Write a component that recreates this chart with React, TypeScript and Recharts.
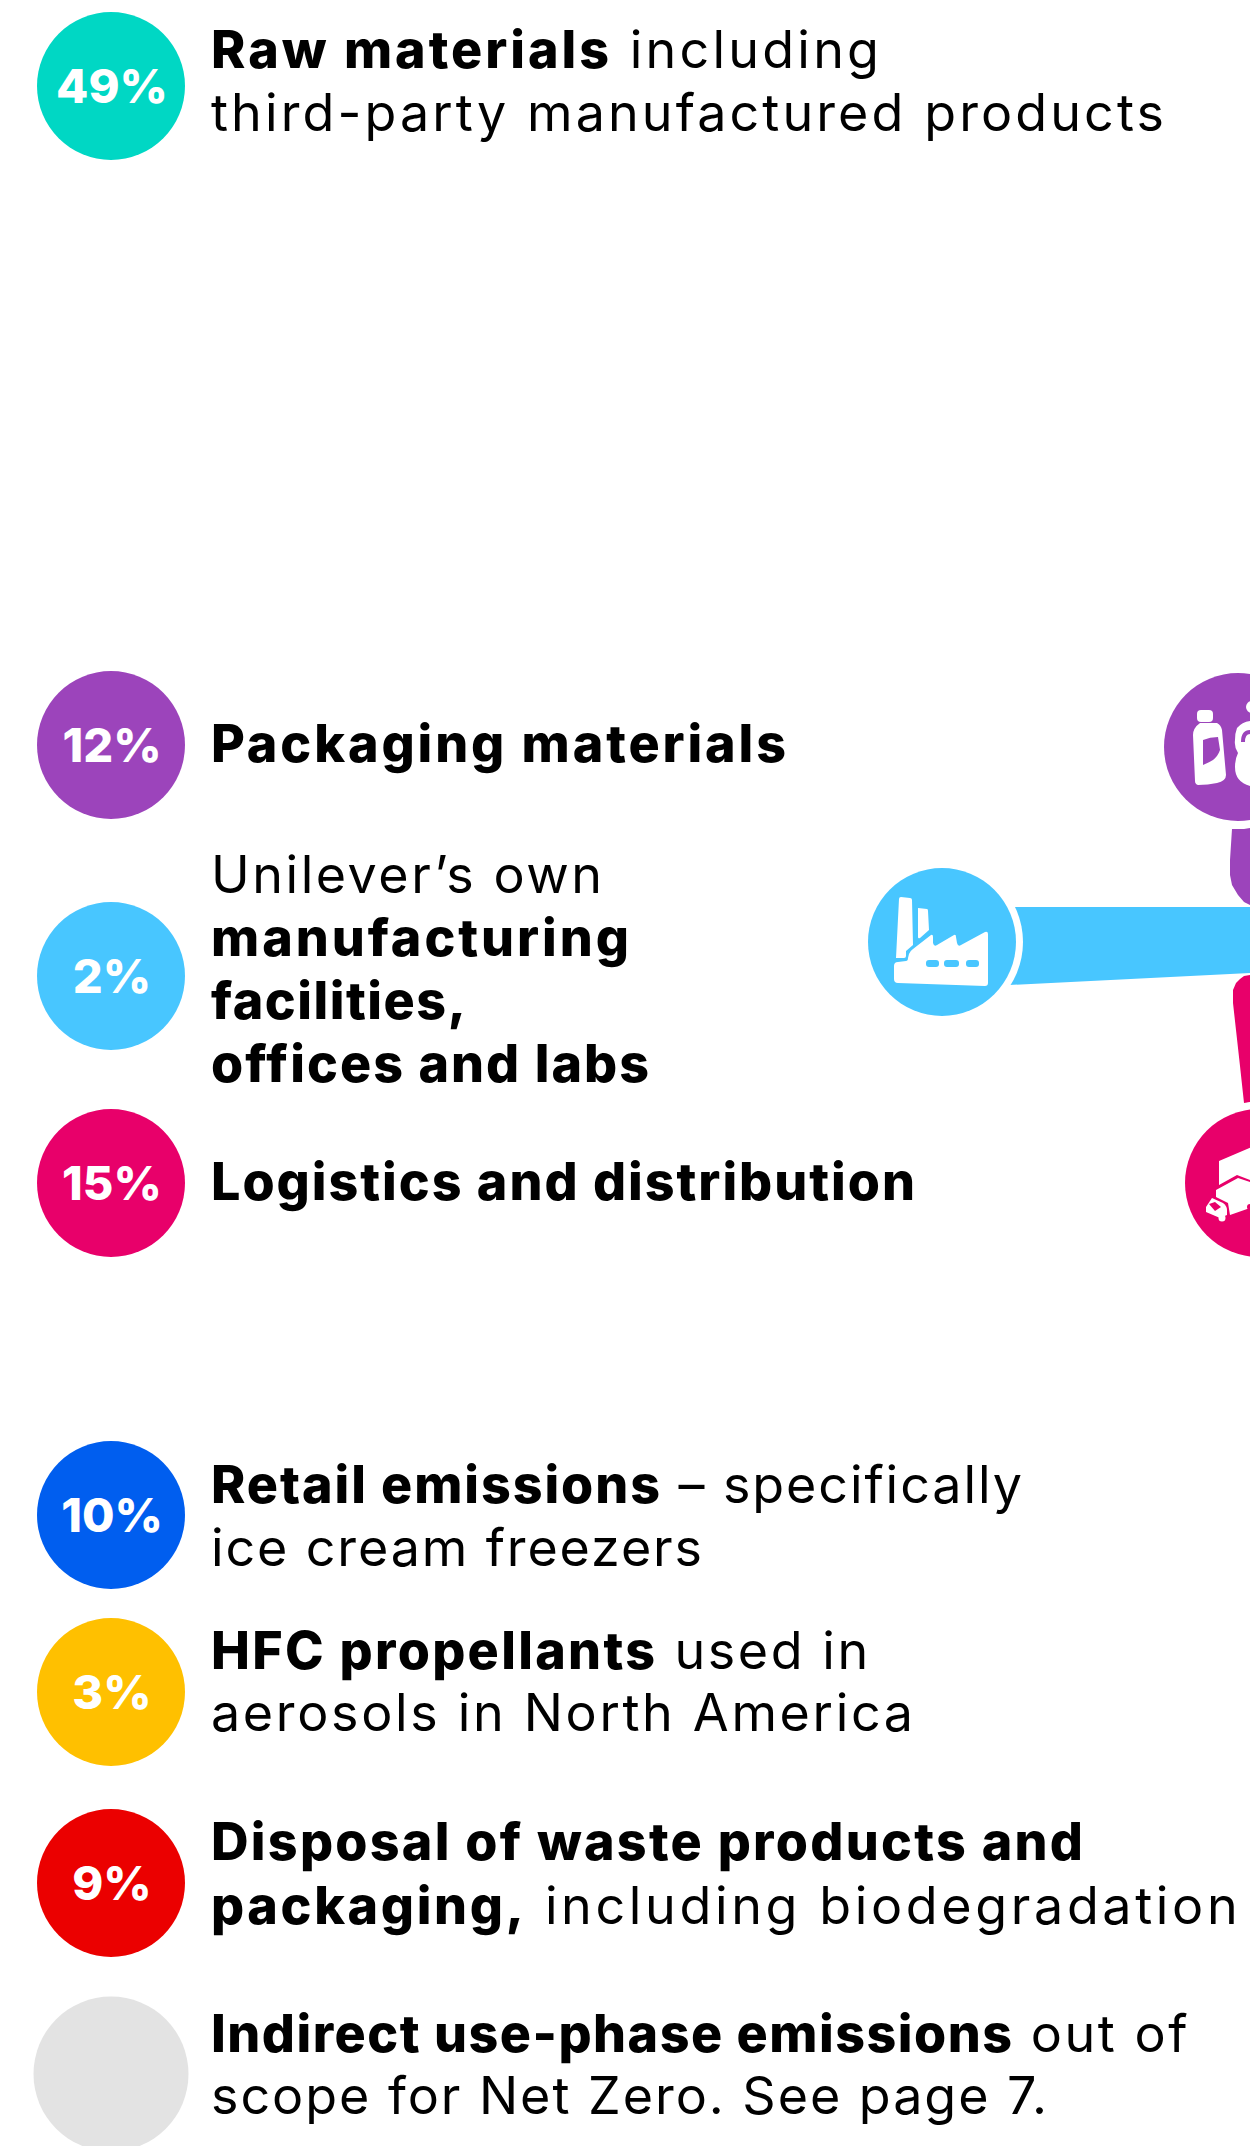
import React from 'react';
import { ComposedChart, Area, Scatter, XAxis, YAxis } from 'recharts';

const WIDTH = 1250;
const HEIGHT = 2146;

// share of the footprint per stage, the last one has no figure
const stages = ['Raw materials', 'Packaging materials', 'Manufacturing', 'Logistics', 'Retail', 'HFC propellants', 'Disposal', 'Indirect use-phase'];
const shares = [49, 12, 2, 15, 10, 3, 9, null];

const stageColors = ['#00d7c4', '#9c44bb', '#48c6ff', '#e8006a', '#005eef', '#ffc000', '#eb0000', '#e3e3e3'];
const circleRowY = [86, 745, 976, 1183, 1515, 1692, 1883, 2074];

// one entry per text line: [bold flag, text] runs
const legendLines: Array<Array<[boolean, string]>> = [
  [[true, 'Raw materials'], [false, ' including']],
  [[false, 'third-party manufactured products']],
  [[true, 'Packaging materials']],
  [[false, 'Unilever’s own']],
  [[true, 'manufacturing']],
  [[true, 'facilities,']],
  [[true, 'offices and labs']],
  [[true, 'Logistics and distribution']],
  [[true, 'Retail emissions'], [false, ' – specifically']],
  [[false, 'ice cream freezers']],
  [[true, 'HFC propellants'], [false, ' used in']],
  [[false, 'aerosols in North America']],
  [[true, 'Disposal of waste products and']],
  [[true, 'packaging,'], [false, ' including biodegradation']],
  [[true, 'Indirect use-phase emissions'], [false, ' out of']],
  [[false, 'scope for Net Zero. See page 7.']],
];
// measured width of each run, so the line ends land where they do in the source
const legendRunWidths = [
  [398, 267], [953], [575], [391], [418], [255], [438], [704],
  [449, 360], [491], [444, 211], [702], [872], [313, 711], [801, 174], [836],
];
const legendBaselines = [68, 131, 762, 893, 956, 1019, 1082, 1200, 1503, 1566, 1669, 1731, 1860, 1924, 2052, 2114];

// flow bands running off the right edge
const blueBand = [
  { x: 990, top: 907, bottom: 986 },
  { x: 1250, top: 907, bottom: 973 },
];
const purpleBand = [
  { x: 1230, top: 860, bottom: 875 },
  { x: 1232, top: 829, bottom: 885 },
  { x: 1238, top: 829, bottom: 895 },
  { x: 1244, top: 829, bottom: 902 },
  { x: 1250, top: 828, bottom: 905 },
];
const pinkBand = [
  { x: 1233, top: 990, bottom: 1003 },
  { x: 1236, top: 983, bottom: 1030 },
  { x: 1240, top: 979, bottom: 1066 },
  { x: 1244, top: 976, bottom: 1103 },
  { x: 1250, top: 975, bottom: 1102 },
];

const iconNodes = [
  { x: 1238, y: 747, color: '#9c44bb', icon: 'bottles' },
  { x: 942, y: 942, color: '#48c6ff', icon: 'factory' },
  { x: 1259, y: 1183, color: '#e8006a', icon: 'truck' },
];

const circleData = shares.map((share, i) => ({
  x: 111,
  y: circleRowY[i],
  share,
  color: stageColors[i],
  r: share === null ? 77.5 : 74,
}));
const lineData = legendLines.map((runs, i) => ({ x: 211, y: legendBaselines[i], runs, widths: legendRunWidths[i] }));

const FONT = 'Inter, sans-serif';

const StageCircle = (props: any) => {
  const { cx, cy, payload } = props;
  return (
    <g>
      <circle cx={cx} cy={cy} r={payload.r} fill={payload.color} />
      {payload.share !== null && (
        <text x={cx + 1} y={cy + 17} textAnchor="middle" fontFamily={FONT} fontWeight={800} fontSize={47} fill="#fff">
          {payload.share}%
        </text>
      )}
    </g>
  );
};

const LegendLine = (props: any) => {
  const { cx, cy, payload } = props;
  return (
    <text x={cx} y={cy} fontFamily={FONT} fontSize={52} fill="#000" style={{ whiteSpace: 'pre' }}>
      {payload.runs.map(([bold, text]: [boolean, string], i: number) => (
        <tspan key={i} fontWeight={bold ? 800 : 400} textLength={payload.widths[i]} lengthAdjust="spacing">{text}</tspan>
      ))}
    </text>
  );
};

const IconNode = (props: any) => {
  const { cx, cy, payload } = props;
  return (
    <g>
      <circle cx={cx} cy={cy} r={81} fill="#fff" />
      <circle cx={cx} cy={cy} r={74} fill={payload.color} />
      <g transform={`translate(${cx} ${cy})`} fill="#fff">
        {payload.icon === 'factory' && (
          <>
            <path d="M-41 -45 L-32 -44 Q-30 -44 -30 -42 L-29 3 L-36 9 L-36 14 Q-36 16 -38 16 L-46 16 L-43 -43 Q-43 -45 -41 -45 Z" />
            <path d="M-24 -34 L-15 -33 Q-14 -33 -14 -31 L-13 -12 L-22 -4 Q-24 -3 -24 -5 Z" />
            <path d="M-44 20 L-36 19 Q-34 19 -34 16 L-33 12 Q-32 9 -29 7 L-11 -7 Q-9 -8 -9 -5 L-9 1 Q-8 5 -5 3 L12 -7 Q14 -8 14 -5 L15 1 Q16 5 19 3 L43 -10 Q46 -11 46 -8 L46 41 Q46 44 43 44 L-44 41 Q-48 41 -48 37 L-48 24 Q-48 20 -44 20 Z" />
            <rect x={-16} y={18} width={13} height={7} rx={3} fill={payload.color} />
            <rect x={2} y={18} width={15} height={7} rx={3} fill={payload.color} />
            <rect x={24} y={18} width={13} height={7} rx={3} fill={payload.color} />
          </>
        )}
        {payload.icon === 'bottles' && (
          <>
            <rect x={-41} y={-37} width={16} height={12} rx={4} />
            <path d="M-38 -24 L-21 -24 Q-17 -22 -16 -17 L-12 28 Q-12 34 -21 36 Q-30 38 -40 38 Q-43 37 -43 34 L-45 -12 Q-45 -19 -38 -24 Z" />
            <path d="M-35 -7 Q-28 -10 -20 -10 L-18 3 Q-20 9 -25 13 Q-30 16 -35 18 Z" fill={payload.color} />
            <circle cx={14} cy={-40} r={6} />
            <path d="M-1 -19 Q4 -25 12 -26 L30 -26 L30 40 L12 39 Q-3 35 -3 20 Q-3 12 0 6 Q-4 0 -3 -7 Q-3 -14 -1 -19 Z" />
            <path d="M3 -5 Q3 -17 12 -17 L12 -13 Q7 -13 7 -5 Z" fill={payload.color} />
          </>
        )}
        {payload.icon === 'truck' && (
          <>
            <path d="M-40 -22 L0 -39 L0 0 L-9 -3 L-22 -8 L-40 2 Z" />
            <path d="M-43 7 L-21 -5 L0 2 L0 22 L-29 32 L-31 20 L-43 14 Z" />
            <path d="M-47 15 L-36 20 Q-32 23 -32 27 L-32 32 L-39 35 L-53 29 L-53 24 Z" />
            <path d="M-50 21 L-44 19 L-38 24 L-44 28 Z" fill={payload.color} />
            <circle cx={-37} cy={35} r={3.5} />
            <circle cx={-9} cy={24} r={3} fill={payload.color} />
          </>
        )}
      </g>
    </g>
  );
};

export default function App() {
  return (
    <div style={{ position: 'absolute', left: 0, top: 0, width: WIDTH, height: HEIGHT, background: '#fff' }}>
      <ComposedChart width={WIDTH} height={HEIGHT} margin={{ top: 0, right: 0, bottom: 0, left: 0 }}>
        <XAxis dataKey="x" type="number" domain={[0, WIDTH]} hide allowDataOverflow />
        <YAxis dataKey="y" type="number" domain={[0, HEIGHT]} reversed hide width={0} allowDataOverflow />
        <Area data={purpleBand} dataKey={(d: any) => [d.top, d.bottom]} type="linear" fill="#9c44bb" fillOpacity={1} stroke="none" dot={false} activeDot={false} isAnimationActive={false} />
        <Area data={pinkBand} dataKey={(d: any) => [d.top, d.bottom]} type="linear" fill="#e8006a" fillOpacity={1} stroke="none" dot={false} activeDot={false} isAnimationActive={false} />
        <Area data={blueBand} dataKey={(d: any) => [d.top, d.bottom]} type="linear" fill="#48c6ff" fillOpacity={1} stroke="none" dot={false} activeDot={false} isAnimationActive={false} />
        <Scatter data={iconNodes} shape={IconNode} isAnimationActive={false} />
        <Scatter data={circleData} shape={StageCircle} isAnimationActive={false} />
        <Scatter data={lineData} shape={LegendLine} isAnimationActive={false} />
      </ComposedChart>
    </div>
  );
}
